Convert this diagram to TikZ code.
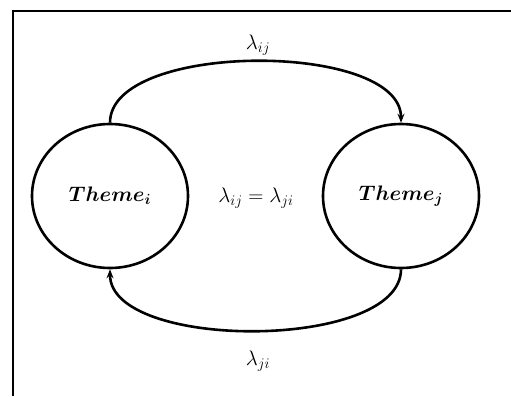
\RequirePackage{fix-cm}
\documentclass[tikz,border=0pt]{standalone}
\usepackage{bm}
\usetikzlibrary{shapes.geometric,arrows.meta}
\begin{document}
\begin{tikzpicture}[x=1pt,y=-1pt,
  theme/.style={draw,ellipse,line width=2.6pt,minimum width=156pt,minimum height=144pt,inner sep=0pt,font=\fontsize{21}{25}\selectfont},
  lab/.style={font=\fontsize{21}{25}\selectfont},
  flow/.style={line width=2.6pt,-{Stealth[length=9pt,width=7pt]},looseness=0.72}]
\useasboundingbox (0,0) rectangle (511,396);
\draw[line width=2pt] (13,396) -- (13,11) -- (511,11);
\node[theme] (i) at (110,196) {$\bm{Theme_i}$};
\node[theme] (j) at (401,196) {$\bm{Theme_j}$};
\node[lab] (c) at (256,198) {$\lambda_{ij}=\lambda_{ji}$};
\draw[flow] (i.north) to[out=90,in=90] (j.north);
\draw[flow] (j.south) to[out=-90,in=-90] (i.south);
\node[lab] (t) at (258,45) {$\lambda_{ij}$};
\node[lab] (b) at (258,361) {$\lambda_{ji}$};
\end{tikzpicture}
\end{document}
